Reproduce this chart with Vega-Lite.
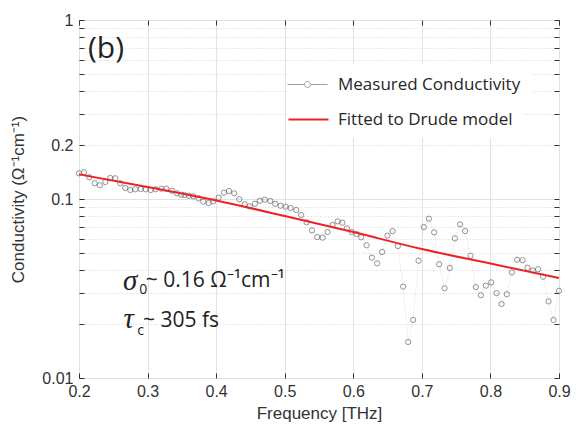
{
  "$schema": "https://vega.github.io/schema/vega-lite/v6.json",
  "width": 480,
  "height": 358,
  "autosize": {"type": "none"},
  "padding": {"left": 79, "top": 20, "right": 17, "bottom": 52},
  "background": "white",
  "config": {"view": {"stroke": "#333333", "strokeWidth": 1}, "font": "Liberation Sans"},
  "datasets": {
    "measured": [
      {"freq": 0.2, "sigma": 0.1392, "series": "Measured Conductivity"},
      {"freq": 0.2073, "sigma": 0.141, "series": "Measured Conductivity"},
      {"freq": 0.215, "sigma": 0.1322, "series": "Measured Conductivity"},
      {"freq": 0.2229, "sigma": 0.1224, "series": "Measured Conductivity"},
      {"freq": 0.2302, "sigma": 0.1193, "series": "Measured Conductivity"},
      {"freq": 0.2383, "sigma": 0.1245, "series": "Measured Conductivity"},
      {"freq": 0.2456, "sigma": 0.131, "series": "Measured Conductivity"},
      {"freq": 0.2529, "sigma": 0.1305, "series": "Measured Conductivity"},
      {"freq": 0.2602, "sigma": 0.1224, "series": "Measured Conductivity"},
      {"freq": 0.2675, "sigma": 0.1152, "series": "Measured Conductivity"},
      {"freq": 0.2748, "sigma": 0.1123, "series": "Measured Conductivity"},
      {"freq": 0.2821, "sigma": 0.1133, "series": "Measured Conductivity"},
      {"freq": 0.2899, "sigma": 0.1137, "series": "Measured Conductivity"},
      {"freq": 0.2972, "sigma": 0.1133, "series": "Measured Conductivity"},
      {"freq": 0.3045, "sigma": 0.1123, "series": "Measured Conductivity"},
      {"freq": 0.3118, "sigma": 0.1133, "series": "Measured Conductivity"},
      {"freq": 0.32, "sigma": 0.1142, "series": "Measured Conductivity"},
      {"freq": 0.3273, "sigma": 0.1142, "series": "Measured Conductivity"},
      {"freq": 0.3356, "sigma": 0.1113, "series": "Measured Conductivity"},
      {"freq": 0.3429, "sigma": 0.1076, "series": "Measured Conductivity"},
      {"freq": 0.3491, "sigma": 0.1057, "series": "Measured Conductivity"},
      {"freq": 0.3538, "sigma": 0.1053, "series": "Measured Conductivity"},
      {"freq": 0.3602, "sigma": 0.1043, "series": "Measured Conductivity"},
      {"freq": 0.3666, "sigma": 0.1035, "series": "Measured Conductivity"},
      {"freq": 0.3745, "sigma": 0.1009, "series": "Measured Conductivity"},
      {"freq": 0.3812, "sigma": 0.0966, "series": "Measured Conductivity"},
      {"freq": 0.3891, "sigma": 0.095, "series": "Measured Conductivity"},
      {"freq": 0.3958, "sigma": 0.0971, "series": "Measured Conductivity"},
      {"freq": 0.4036, "sigma": 0.1017, "series": "Measured Conductivity"},
      {"freq": 0.4114, "sigma": 0.1085, "series": "Measured Conductivity"},
      {"freq": 0.4187, "sigma": 0.1108, "series": "Measured Conductivity"},
      {"freq": 0.4264, "sigma": 0.1076, "series": "Measured Conductivity"},
      {"freq": 0.4337, "sigma": 0.0996, "series": "Measured Conductivity"},
      {"freq": 0.4415, "sigma": 0.0934, "series": "Measured Conductivity"},
      {"freq": 0.4488, "sigma": 0.091, "series": "Measured Conductivity"},
      {"freq": 0.4566, "sigma": 0.0941, "series": "Measured Conductivity"},
      {"freq": 0.4638, "sigma": 0.0978, "series": "Measured Conductivity"},
      {"freq": 0.4711, "sigma": 0.0991, "series": "Measured Conductivity"},
      {"freq": 0.4789, "sigma": 0.0975, "series": "Measured Conductivity"},
      {"freq": 0.4862, "sigma": 0.0941, "series": "Measured Conductivity"},
      {"freq": 0.494, "sigma": 0.0917, "series": "Measured Conductivity"},
      {"freq": 0.5013, "sigma": 0.0906, "series": "Measured Conductivity"},
      {"freq": 0.5086, "sigma": 0.0891, "series": "Measured Conductivity"},
      {"freq": 0.5168, "sigma": 0.0868, "series": "Measured Conductivity"},
      {"freq": 0.524, "sigma": 0.0814, "series": "Measured Conductivity"},
      {"freq": 0.5319, "sigma": 0.0741, "series": "Measured Conductivity"},
      {"freq": 0.5397, "sigma": 0.0668, "series": "Measured Conductivity"},
      {"freq": 0.5474, "sigma": 0.0613, "series": "Measured Conductivity"},
      {"freq": 0.5553, "sigma": 0.0608, "series": "Measured Conductivity"},
      {"freq": 0.5625, "sigma": 0.0654, "series": "Measured Conductivity"},
      {"freq": 0.5698, "sigma": 0.0715, "series": "Measured Conductivity"},
      {"freq": 0.5771, "sigma": 0.075, "series": "Measured Conductivity"},
      {"freq": 0.5841, "sigma": 0.0737, "series": "Measured Conductivity"},
      {"freq": 0.5907, "sigma": 0.0686, "series": "Measured Conductivity"},
      {"freq": 0.5977, "sigma": 0.0654, "series": "Measured Conductivity"},
      {"freq": 0.6048, "sigma": 0.0637, "series": "Measured Conductivity"},
      {"freq": 0.6115, "sigma": 0.0611, "series": "Measured Conductivity"},
      {"freq": 0.6194, "sigma": 0.0551, "series": "Measured Conductivity"},
      {"freq": 0.6271, "sigma": 0.047, "series": "Measured Conductivity"},
      {"freq": 0.6348, "sigma": 0.0437, "series": "Measured Conductivity"},
      {"freq": 0.6421, "sigma": 0.0506, "series": "Measured Conductivity"},
      {"freq": 0.65, "sigma": 0.0624, "series": "Measured Conductivity"},
      {"freq": 0.6573, "sigma": 0.0662, "series": "Measured Conductivity"},
      {"freq": 0.665, "sigma": 0.0546, "series": "Measured Conductivity"},
      {"freq": 0.6727, "sigma": 0.0324, "series": "Measured Conductivity"},
      {"freq": 0.68, "sigma": 0.0159, "series": "Measured Conductivity"},
      {"freq": 0.6873, "sigma": 0.0211, "series": "Measured Conductivity"},
      {"freq": 0.6952, "sigma": 0.0452, "series": "Measured Conductivity"},
      {"freq": 0.7029, "sigma": 0.0697, "series": "Measured Conductivity"},
      {"freq": 0.7102, "sigma": 0.0776, "series": "Measured Conductivity"},
      {"freq": 0.7179, "sigma": 0.0651, "series": "Measured Conductivity"},
      {"freq": 0.7252, "sigma": 0.0432, "series": "Measured Conductivity"},
      {"freq": 0.7331, "sigma": 0.0317, "series": "Measured Conductivity"},
      {"freq": 0.7408, "sigma": 0.0412, "series": "Measured Conductivity"},
      {"freq": 0.7481, "sigma": 0.0603, "series": "Measured Conductivity"},
      {"freq": 0.7558, "sigma": 0.0722, "series": "Measured Conductivity"},
      {"freq": 0.7631, "sigma": 0.0662, "series": "Measured Conductivity"},
      {"freq": 0.771, "sigma": 0.0482, "series": "Measured Conductivity"},
      {"freq": 0.7787, "sigma": 0.0322, "series": "Measured Conductivity"},
      {"freq": 0.786, "sigma": 0.029, "series": "Measured Conductivity"},
      {"freq": 0.7933, "sigma": 0.0328, "series": "Measured Conductivity"},
      {"freq": 0.801, "sigma": 0.0342, "series": "Measured Conductivity"},
      {"freq": 0.8089, "sigma": 0.0298, "series": "Measured Conductivity"},
      {"freq": 0.8162, "sigma": 0.0259, "series": "Measured Conductivity"},
      {"freq": 0.8239, "sigma": 0.0294, "series": "Measured Conductivity"},
      {"freq": 0.8312, "sigma": 0.0389, "series": "Measured Conductivity"},
      {"freq": 0.8389, "sigma": 0.0458, "series": "Measured Conductivity"},
      {"freq": 0.8468, "sigma": 0.0455, "series": "Measured Conductivity"},
      {"freq": 0.8541, "sigma": 0.0413, "series": "Measured Conductivity"},
      {"freq": 0.8618, "sigma": 0.0399, "series": "Measured Conductivity"},
      {"freq": 0.8695, "sigma": 0.0405, "series": "Measured Conductivity"},
      {"freq": 0.8768, "sigma": 0.0368, "series": "Measured Conductivity"},
      {"freq": 0.8847, "sigma": 0.0268, "series": "Measured Conductivity"},
      {"freq": 0.892, "sigma": 0.0211, "series": "Measured Conductivity"},
      {"freq": 0.9, "sigma": 0.0307, "series": "Measured Conductivity"}
    ],
    "fit": [
      {"freq": 0.2, "sigma": 0.1374, "series": "Fitted to Drude model"},
      {"freq": 0.3, "sigma": 0.1167, "series": "Fitted to Drude model"},
      {"freq": 0.4, "sigma": 0.0981, "series": "Fitted to Drude model"},
      {"freq": 0.5, "sigma": 0.0804, "series": "Fitted to Drude model"},
      {"freq": 0.6, "sigma": 0.0654, "series": "Fitted to Drude model"},
      {"freq": 0.7, "sigma": 0.0525, "series": "Fitted to Drude model"},
      {"freq": 0.8, "sigma": 0.0436, "series": "Fitted to Drude model"},
      {"freq": 0.9, "sigma": 0.0362, "series": "Fitted to Drude model"}
    ],
    "notes": [
      {"freq": 0.2131, "sigma": 0.6134, "label": "(b)", "role": "panel"},
      {"freq": 0.2640, "sigma": 0.031, "label": "σ", "role": "greek"},
      {"freq": 0.2880, "sigma": 0.02946, "label": "0", "role": "sub"},
      {"freq": 0.2975, "sigma": 0.0322, "label": "~ 0.16 Ω⁻¹cm⁻¹", "role": "body"},
      {"freq": 0.2650, "sigma": 0.01902, "label": "τ", "role": "greek"},
      {"freq": 0.2850, "sigma": 0.01739, "label": "c", "role": "sub"},
      {"freq": 0.2935, "sigma": 0.01928, "label": "~ 305 fs", "role": "body"}
    ]
  },
  "resolve": {"axis": {"x": "independent", "y": "independent"}},
  "layer": [
    {
      "data": {"name": "measured"},
      "mark": {"type": "line", "color": "#c4c4c4", "strokeWidth": 0.6, "strokeDash": [1, 1.5]},
      "encoding": {
        "x": {
          "field": "freq", "type": "quantitative",
          "scale": {"domain": [0.2, 0.9], "nice": false, "zero": false},
          "axis": {
            "title": "Frequency [THz]",
            "values": [0.2, 0.3, 0.4, 0.5, 0.6, 0.7, 0.8, 0.9],
            "format": ".1f",
            "labelFont": "Liberation Sans", "labelFontSize": 16, "labelColor": "#333333",
            "labelFlush": false, "labelPadding": 10,
            "titleFont": "Liberation Sans", "titleFontSize": 17, "titleColor": "#333333",
            "titleFontWeight": "normal", "titlePadding": 6,
            "tickSize": -5, "tickColor": "#333333",
            "domain": false,
            "grid": true, "gridColor": "#e2e2e2", "gridWidth": 1
          }
        },
        "y": {
          "field": "sigma", "type": "quantitative",
          "scale": {"type": "log", "domain": [0.01, 1], "nice": false},
          "axis": {
            "title": "Conductivity (Ω⁻¹cm⁻¹)",
            "values": [0.01, 0.02, 0.03, 0.04, 0.05, 0.06, 0.07, 0.08, 0.09, 0.1, 0.2, 0.3, 0.4, 0.5, 0.6, 0.7, 0.8, 0.9, 1],
            "format": "~g",
            "labelExpr": "(datum.value == 0.01 || datum.value == 0.1 || datum.value == 0.2 || datum.value == 1) ? datum.label : ''",
            "labelFont": "Liberation Sans", "labelFontSize": 16, "labelColor": "#333333",
            "labelPadding": 11, "labelFlush": false,
            "titleFont": "Liberation Sans", "titleFontSize": 17, "titleColor": "#333333",
            "titleFontWeight": "normal", "titlePadding": 14,
            "tickSize": -5, "tickColor": "#333333",
            "domain": false,
            "grid": true,
            "gridColor": {"condition": {"test": "datum.value == 0.01 || datum.value == 0.1 || datum.value == 1", "value": "#e2e2e2"}, "value": "#d6d6d6"},
            "gridDash": {"condition": {"test": "datum.value == 0.01 || datum.value == 0.1 || datum.value == 1", "value": []}, "value": [1, 2]}
          }
        }
      }
    },
    {
      "data": {"name": "fit"},
      "mark": {"type": "point", "opacity": 0},
      "encoding": {
        "x": {
          "field": "freq", "type": "quantitative",
          "scale": {"domain": [0.2, 0.9], "nice": false, "zero": false},
          "axis": {"orient": "top", "title": null, "labels": false, "domain": false, "grid": false,
                   "values": [0.2, 0.3, 0.4, 0.5, 0.6, 0.7, 0.8, 0.9], "tickSize": -5, "tickColor": "#333333"}
        },
        "y": {
          "field": "sigma", "type": "quantitative",
          "scale": {"type": "log", "domain": [0.01, 1], "nice": false},
          "axis": {"orient": "right", "title": null, "labels": false, "domain": false, "grid": false,
                   "values": [0.01, 0.02, 0.03, 0.04, 0.05, 0.06, 0.07, 0.08, 0.09, 0.1, 0.2, 0.3, 0.4, 0.5, 0.6, 0.7, 0.8, 0.9, 1],
                   "tickSize": -5, "tickColor": "#333333"}
        }
      }
    },
    {
      "data": {"name": "measured"},
      "mark": {"type": "point", "filled": false, "size": 28, "strokeWidth": 0.9},
      "encoding": {
        "x": {"field": "freq", "type": "quantitative", "scale": {"domain": [0.2, 0.9], "nice": false, "zero": false}, "axis": null},
        "y": {"field": "sigma", "type": "quantitative", "scale": {"type": "log", "domain": [0.01, 1], "nice": false}, "axis": null},
        "color": {
          "field": "series", "type": "nominal",
          "scale": {"domain": ["Measured Conductivity"], "range": ["#555555"]},
          "legend": {
            "orient": "none", "legendX": 208, "legendY": 44, "title": null,
            "fillColor": "white", "padding": 10,
            "labelFont": "Open Sans", "labelFontSize": 17, "labelColor": "#262626", "labelLimit": 400,
            "symbolType": "M-2,0H-0.32M0.32,0H2M0.3,0A0.3,0.3,0,1,1,-0.3,0A0.3,0.3,0,1,1,0.3,0",
            "symbolSize": 400, "symbolStrokeWidth": 0.8, "symbolStrokeColor": "#777777", "symbolFillColor": "transparent",
            "labelOffset": 20
          }
        }
      }
    },
    {
      "data": {"name": "fit"},
      "mark": {"type": "line", "strokeWidth": 2, "interpolate": "monotone"},
      "encoding": {
        "x": {"field": "freq", "type": "quantitative", "scale": {"domain": [0.2, 0.9], "nice": false, "zero": false}, "axis": null},
        "y": {"field": "sigma", "type": "quantitative", "scale": {"type": "log", "domain": [0.01, 1], "nice": false}, "axis": null},
        "stroke": {
          "field": "series", "type": "nominal",
          "scale": {"domain": ["Fitted to Drude model"], "range": ["#ee2222"]},
          "legend": {
            "orient": "none", "legendX": 208, "legendY": 78, "title": null,
            "fillColor": "white", "padding": 10,
            "labelFont": "Open Sans", "labelFontSize": 17, "labelColor": "#262626", "labelLimit": 400,
            "symbolType": "M-2,0H2",
            "symbolSize": 400, "symbolStrokeWidth": 2.2,
            "labelOffset": 18
          }
        }
      }
    },
    {
      "data": {"name": "notes"},
      "transform": [{"filter": "datum.role == 'panel'"}],
      "mark": {"type": "text", "font": "Open Sans", "fontSize": 30, "color": "#222222", "align": "left", "baseline": "alphabetic"},
      "encoding": {
        "x": {"field": "freq", "type": "quantitative", "scale": {"domain": [0.2, 0.9], "nice": false, "zero": false}, "axis": null},
        "y": {"field": "sigma", "type": "quantitative", "scale": {"type": "log", "domain": [0.01, 1], "nice": false}, "axis": null},
        "text": {"field": "label"}
      }
    },
    {
      "data": {"name": "notes"},
      "transform": [{"filter": "datum.role == 'greek'"}],
      "mark": {"type": "text", "font": "Liberation Serif", "fontStyle": "italic", "fontSize": 29, "color": "#222222", "align": "left", "baseline": "alphabetic"},
      "encoding": {
        "x": {"field": "freq", "type": "quantitative", "scale": {"domain": [0.2, 0.9], "nice": false, "zero": false}, "axis": null},
        "y": {"field": "sigma", "type": "quantitative", "scale": {"type": "log", "domain": [0.01, 1], "nice": false}, "axis": null},
        "text": {"field": "label"}
      }
    },
    {
      "data": {"name": "notes"},
      "transform": [{"filter": "datum.role == 'sub'"}],
      "mark": {"type": "text", "font": "Open Sans", "fontSize": 14, "color": "#222222", "align": "left", "baseline": "alphabetic"},
      "encoding": {
        "x": {"field": "freq", "type": "quantitative", "scale": {"domain": [0.2, 0.9], "nice": false, "zero": false}, "axis": null},
        "y": {"field": "sigma", "type": "quantitative", "scale": {"type": "log", "domain": [0.01, 1], "nice": false}, "axis": null},
        "text": {"field": "label"}
      }
    },
    {
      "data": {"name": "notes"},
      "transform": [{"filter": "datum.role == 'body'"}],
      "mark": {"type": "text", "font": "Open Sans", "fontSize": 21, "color": "#222222", "align": "left", "baseline": "alphabetic"},
      "encoding": {
        "x": {"field": "freq", "type": "quantitative", "scale": {"domain": [0.2, 0.9], "nice": false, "zero": false}, "axis": null},
        "y": {"field": "sigma", "type": "quantitative", "scale": {"type": "log", "domain": [0.01, 1], "nice": false}, "axis": null},
        "text": {"field": "label"}
      }
    }
  ]
}
